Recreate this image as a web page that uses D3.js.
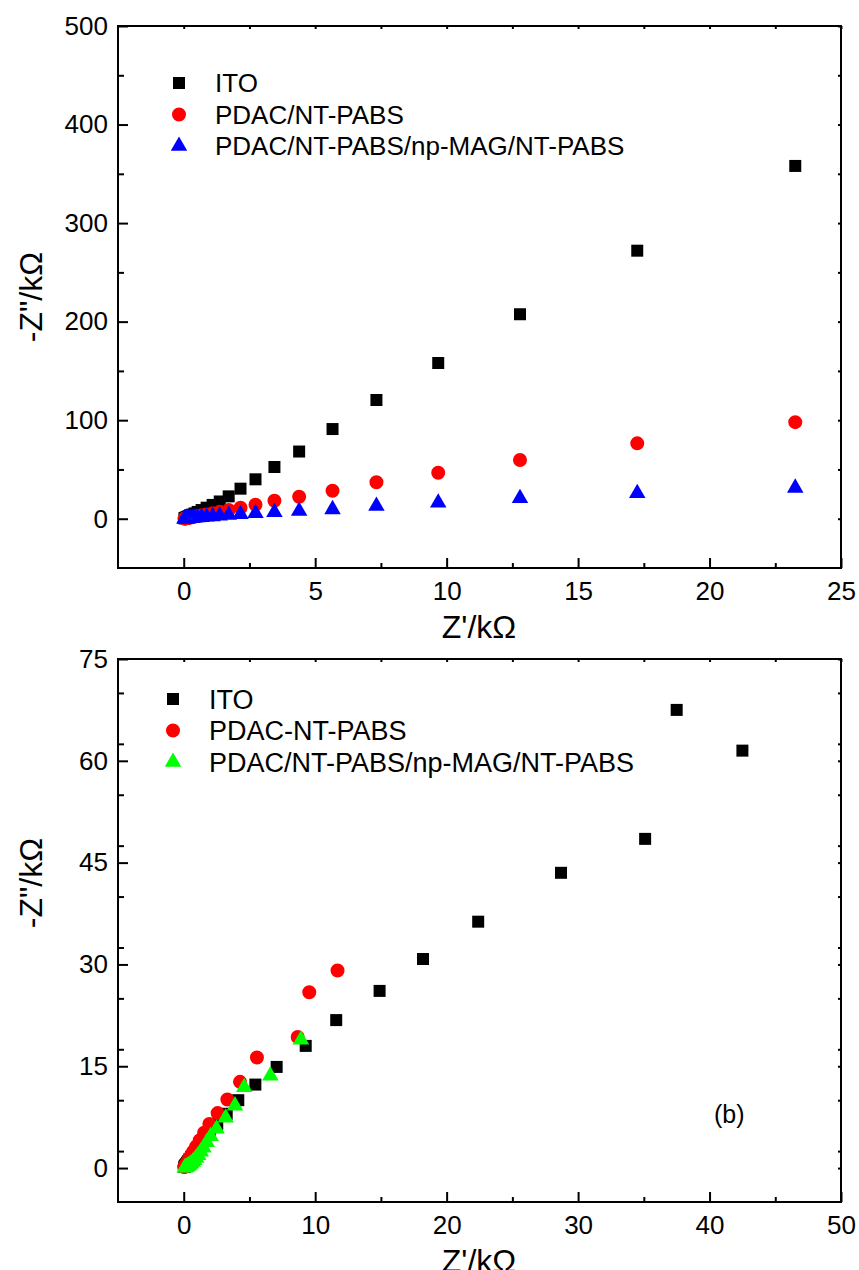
<!DOCTYPE html>
<html>
<head>
<meta charset="utf-8">
<script src="https://cdn.jsdelivr.net/npm/d3@7"></script>
<style>
  body { margin: 0; background: #fff; }
  text { font-family: "Liberation Sans", Arial, sans-serif; fill: #000; }
</style>
</head>
<body>
<svg id="chartSvg" width="859" height="1270"></svg>
<script>
const chartSvg = d3.select("#chartSvg");

// ---- panel (a) data : Z' / kOhm and -Z'' / kOhm ----
const topZre = [23.26, 17.25, 12.79, 9.68, 7.33, 5.66, 4.39, 3.45, 2.73, 2.16, 1.71, 1.37, 1.10, 0.87, 0.68, 0.53, 0.41, 0.32, 0.25, 0.19, 0.15, 0.11, 0.08, 0.06, 0.04, 0.03];
const topIto = [358, 272, 207.5, 158, 120.5, 91, 68.2, 52.5, 40, 30.5, 22.7, 17.5, 14, 11.2, 8.8, 6.9, 5.4, 4.2, 3.3, 2.6, 2.0, 1.5, 1.1, 0.8, 0.55, 0.4];
const topPdac = [98, 76.5, 59.6, 46.7, 37, 28.4, 22.3, 18.3, 14.2, 11.2, 8.8, 7.0, 5.6, 4.4, 3.5, 2.7, 2.1, 1.6, 1.25, 0.95, 0.75, 0.55, 0.4, 0.3, 0.2, 0.15];
const topMag = [31.3, 25.8, 20.7, 16.2, 12.9, 9.5, 7.8, 6.6, 5.5, 4.5, 3.7, 3.0, 2.4, 1.9, 1.5, 1.2, 0.9, 0.7, 0.55, 0.42, 0.33, 0.25, 0.18, 0.13, 0.09, 0.06];
const topLabels = ["ITO", "PDAC/NT-PABS", "PDAC/NT-PABS/np-MAG/NT-PABS"];
const topXTicks = [0, 5, 10, 15, 20, 25];
const topYTicks = [0, 100, 200, 300, 400, 500];

// ---- panel (b) data ----
const botItoX = [42.5, 37.5, 35.1, 28.7, 22.4, 18.2, 14.9, 11.6, 9.28, 7.07, 5.45, 4.15, 3.27, 2.55, 1.98, 1.55, 1.2, 0.93, 0.72, 0.56, 0.43, 0.33, 0.25, 0.19, 0.14, 0.1, 0.07, 0.05];
const botItoY = [61.5, 67.5, 48.5, 43.5, 36.3, 30.8, 26.1, 21.8, 18, 14.9, 12.3, 10, 8, 6.5, 5.2, 4.2, 3.35, 2.65, 2.1, 1.65, 1.3, 1.0, 0.78, 0.6, 0.45, 0.33, 0.24, 0.17];
const botPdacX = [11.7, 9.55, 8.67, 5.57, 4.28, 3.32, 2.58, 1.95, 1.55, 1.22, 0.95, 0.75, 0.58, 0.45, 0.35, 0.27, 0.2, 0.15, 0.11, 0.08, 0.06, 0.04];
const botPdacY = [29.1, 25.9, 19.3, 16.3, 12.7, 10.1, 8.1, 6.5, 5.2, 4.1, 3.2, 2.5, 1.95, 1.5, 1.15, 0.88, 0.66, 0.5, 0.37, 0.27, 0.2, 0.14];
const botMagX = [8.92, 6.59, 4.6, 3.9, 3.19, 2.5, 2.05, 1.75, 1.5, 1.3, 1.1, 0.95, 0.8, 0.68, 0.56, 0.46, 0.37, 0.29, 0.22, 0.16, 0.11, 0.07];
const botMagY = [18.9, 13.6, 11.9, 9.2, 7.4, 5.8, 4.7, 3.8, 3.0, 2.4, 1.9, 1.5, 1.15, 0.9, 0.68, 0.5, 0.37, 0.26, 0.18, 0.12, 0.07, 0.04];
const botLabels = ["ITO", "PDAC-NT-PABS", "PDAC/NT-PABS/np-MAG/NT-PABS"];
const botXTicks = [0, 10, 20, 30, 40, 50];
const botYTicks = [0, 15, 30, 45, 60, 75];

const markerShapes = [
  { type: d3.symbolSquare, size: 144 },
  { type: d3.symbolCircle, size: 154 },
  { type: d3.symbolTriangle, size: 118 }
];

function zip(xs, ys) {
  return xs.map(function (x, i) { return { x: x, y: ys[i] }; });
}

function drawPanel(p) {
  let xScale = d3.scaleLinear().domain(p.xDomain).range([118, 841]);
  let yScale = d3.scaleLinear().domain(p.yDomain).range([p.bottom, p.top]);
  let g = chartSvg.append("g");

  let xMinor = d3.range(p.xDomain[0], p.xDomain[1] + 0.001, p.xStep / 2)
    .filter(function (v) { return p.xTicks.indexOf(v) < 0 && v > p.xDomain[0]; });
  let yMinor = d3.range(p.yDomain[0], p.yDomain[1] + 0.001, p.yStep / 2)
    .filter(function (v) { return p.yTicks.indexOf(v) < 0 && v > p.yDomain[0]; });

  // bottom axis, ticks point inward
  g.append("g").attr("class", "axis")
    .attr("transform", "translate(0," + p.bottom + ")")
    .call(d3.axisBottom(xScale).tickValues(p.xTicks).tickSize(-10).tickPadding(14));
  g.append("g").attr("class", "axis")
    .attr("transform", "translate(0," + p.bottom + ")")
    .call(d3.axisBottom(xScale).tickValues(xMinor).tickSize(-5).tickFormat(""));
  // left axis
  g.append("g").attr("class", "axis")
    .attr("transform", "translate(118,0)")
    .call(d3.axisLeft(yScale).tickValues(p.yTicks).tickSize(-10).tickPadding(10));
  g.append("g").attr("class", "axis")
    .attr("transform", "translate(118,0)")
    .call(d3.axisLeft(yScale).tickValues(yMinor).tickSize(-6).tickFormat(""));
  // top and right axes, short ticks
  g.append("g").attr("class", "axis")
    .attr("transform", "translate(0," + p.top + ")")
    .call(d3.axisTop(xScale).tickValues(p.xTicks.concat(xMinor)).tickSize(-3).tickFormat(""));
  g.append("g").attr("class", "axis")
    .attr("transform", "translate(841,0)")
    .call(d3.axisRight(yScale).tickValues(p.yTicks.concat(yMinor)).tickSize(-3).tickFormat(""));

  g.selectAll(".axis .domain").remove();
  g.selectAll(".axis line").attr("stroke", "#000").attr("stroke-width", 2);
  g.selectAll(".axis text").style("font-size", "26px").attr("fill", "#000")
    .style("font-family", "'Liberation Sans', Arial, sans-serif");

  // frame
  g.append("rect")
    .attr("x", 118).attr("y", p.top)
    .attr("width", 841 - 118).attr("height", p.bottom - p.top)
    .attr("fill", "none").attr("stroke", "#000").attr("stroke-width", 2);

  // data series
  p.series.forEach(function (s, i) {
    g.selectAll(".pt" + i)
      .data(s.points)
      .enter().append("path")
      .attr("d", d3.symbol().type(markerShapes[i].type).size(markerShapes[i].size))
      .attr("transform", function (d) { return "translate(" + xScale(d.x) + "," + yScale(d.y) + ")"; })
      .attr("fill", s.color);
  });

  // legend
  p.series.forEach(function (s, i) {
    let ly = p.legendY + i * 31.5;
    g.append("path")
      .attr("d", d3.symbol().type(markerShapes[i].type).size(markerShapes[i].size))
      .attr("transform", "translate(" + p.legendX + "," + ly + ")")
      .attr("fill", s.color);
    g.append("text")
      .attr("x", p.legendX + 36).attr("y", ly)
      .attr("dy", "0.36em")
      .style("font-size", p.legendFont + "px")
      .text(p.labels[i]);
  });

  // axis titles
  g.append("text")
    .attr("x", 479).attr("y", p.bottom + 70)
    .attr("text-anchor", "middle")
    .style("font-size", "32px")
    .text("Z'/k\u03A9");
  g.append("text")
    .attr("transform", "translate(42," + p.yTitleY + ") rotate(-90)")
    .attr("text-anchor", "middle")
    .style("font-size", "32px")
    .text("-Z\"/k\u03A9");

  if (p.tag) {
    g.append("text")
      .attr("x", xScale(p.tag.x)).attr("y", yScale(p.tag.y))
      .attr("text-anchor", "middle").attr("dy", "0.35em")
      .style("font-size", "25px")
      .text(p.tag.text);
  }
}

drawPanel({
  top: 26, bottom: 568,
  xDomain: [-2.5, 25], yDomain: [-50, 500],
  xStep: 5, yStep: 100,
  xTicks: topXTicks, yTicks: topYTicks,
  legendX: 179, legendY: 83, legendFont: 26,
  labels: topLabels,
  yTitleY: 297,
  series: [
    { points: zip(topZre, topIto), color: "#000000" },
    { points: zip(topZre, topPdac), color: "#ff0000" },
    { points: zip(topZre, topMag), color: "#0000ff" }
  ]
});

drawPanel({
  top: 659, bottom: 1202,
  xDomain: [-5, 50], yDomain: [-5, 75],
  xStep: 10, yStep: 15,
  xTicks: botXTicks, yTicks: botYTicks,
  legendX: 173, legendY: 699, legendFont: 27,
  labels: botLabels,
  yTitleY: 883,
  tag: { x: 41.5, y: 8, text: "(b)" },
  series: [
    { points: zip(botItoX, botItoY), color: "#000000" },
    { points: zip(botPdacX, botPdacY), color: "#ff0000" },
    { points: zip(botMagX, botMagY), color: "#00ff00" }
  ]
});
</script>
</body>
</html>
